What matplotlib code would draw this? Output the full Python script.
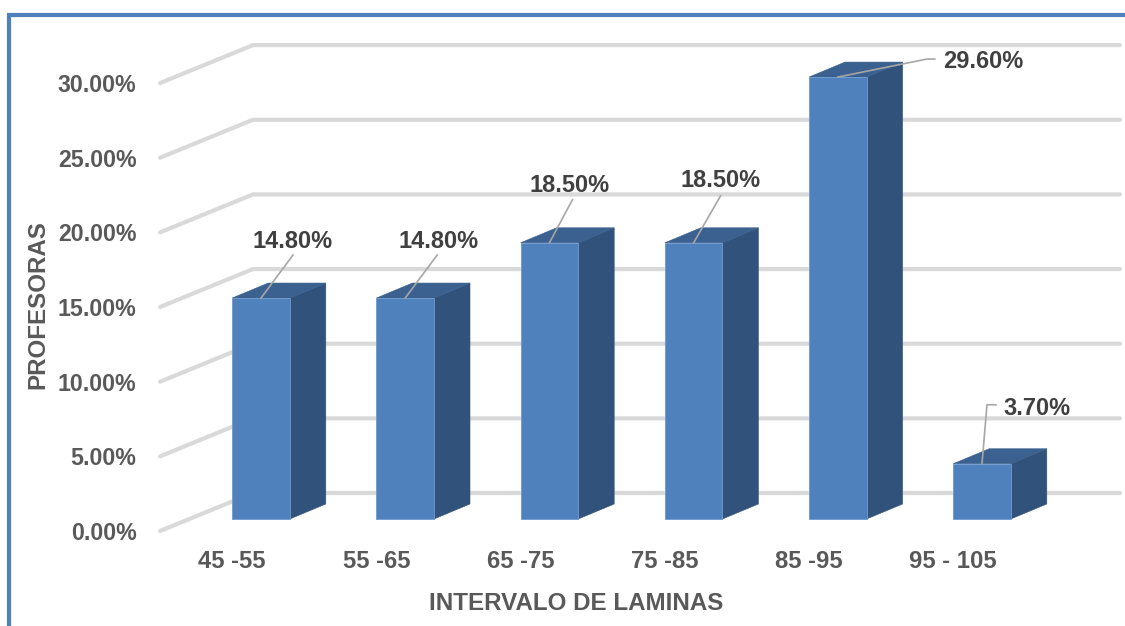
import numpy as np
import matplotlib
matplotlib.use("Agg")
import matplotlib.pyplot as plt
from matplotlib.lines import Line2D
from matplotlib.patches import Polygon

# valores
intervalos = ["45 -55", "55 -65", "65 -75", "75 -85", "85 -95", "95 - 105"]
profesoras = [14.8, 14.8, 18.5, 18.5, 29.6, 3.7]
ticks_y = [0, 5, 10, 15, 20, 25, 30]

W, H = 1125, 626
PX_X = 144.2   # pixeles por categoria
PX_Y = 14.93   # pixeles por punto porcentual
X0, Y0 = 261, 519  # centro de la primera barra, base de las barras

plt.rcParams["font.family"] = ["Liberation Sans", "DejaVu Sans"]
plt.rcParams["font.weight"] = "bold"
GRIS = "#595959"
AZUL, LADO, TECHO = "#4F81BD", "#31527A", "#3A6190"

fig = plt.figure(figsize=(W / 100, H / 100), dpi=100)
left, right, top, bottom = 160, W, 20, 531
ax = fig.add_axes([left / W, 1 - bottom / H, (right - left) / W, (bottom - top) / H])
ax.set_xlim((left - X0) / PX_X, (right - X0) / PX_X)
ax.set_ylim((Y0 - bottom) / PX_Y, (Y0 - top) / PX_Y)
ax.patch.set_alpha(0)
for s in ax.spines.values():
    s.set_visible(False)

# desplazamientos de la perspectiva, en unidades de datos
px = lambda d: d / PX_X
py = lambda d: d / PX_Y
caida = py(531 - 519)     # plano frontal de la rejilla
fondo = py(519 - 493)     # plano trasero de la rejilla
x_ini, x_fondo, x_fin = ax.get_xlim()[0], px(253 - X0), px(1120 - X0)

# rejilla en forma de L
for v in ticks_y:
    ax.plot([x_ini, x_fondo, x_fin], [v - caida, v + fondo, v + fondo],
            color="#D9D9D9", lw=3, solid_capstyle="round", solid_joinstyle="miter",
            clip_on=False, zorder=1)

# barras 3d
ancho = px(28.8)
dx, dy = px(36), py(15)
for i, v in enumerate(profesoras):
    a, b = i - ancho, i + ancho
    ax.bar(i, v, width=2 * ancho, color=AZUL, edgecolor="#6E9BD0", lw=0.6, zorder=3)
    ax.add_patch(Polygon([(b, 0), (b + dx, dy), (b + dx, v + dy), (b, v)],
                         closed=True, fc=LADO, ec=LADO, lw=0.4, zorder=2))
    ax.add_patch(Polygon([(a, v), (a + dx, v + dy), (b + dx, v + dy), (b, v)],
                         closed=True, fc=TECHO, ec=TECHO, lw=0.4, zorder=2))

# lineas guia y etiquetas, desplazamientos en pixeles desde la barra
guias = [
    [(32, 43)],
    [(32, 43)],
    [(23, 43)],
    [(27, 47)],
    [(89, 18), (97, 18)],
    [(5, 59), (14, 59)],
]
pos_etiqueta = [(32, 57), (33, 57), (20, 57), (27, 62), (145, 16), (55, 55)]
for i, v in enumerate(profesoras):
    xs = [i] + [i + px(g[0]) for g in guias[i]]
    ys = [v] + [v + py(g[1]) for g in guias[i]]
    ax.plot(xs, ys, color="#A6A6A6", lw=1.2, clip_on=False, zorder=4)
    ex, ey = pos_etiqueta[i]
    ax.text(i + px(ex), v + py(ey), f"{v:.2f}%", ha="center", va="center",
            fontsize=17, color="#404040", zorder=5)

ax.set_yticks(np.array(ticks_y) - caida, [f"{t:.2f}%" for t in ticks_y])
ax.set_xticks(np.arange(len(intervalos)) - ancho, intervalos)
ax.tick_params(axis="y", length=0, pad=17, labelsize=16.7, labelcolor=GRIS)
ax.tick_params(axis="x", length=0, pad=14, labelsize=17.2, labelcolor=GRIS)

fig.text(576 / W, 1 - 604 / H, "INTERVALO DE LAMINAS", ha="center", va="center",
         fontsize=17.4, color=GRIS)
fig.text(38 / W, 1 - 305 / H, "PROFESORAS", ha="center", va="center",
         rotation=90, fontsize=17.4, color=GRIS)

# marco azul
fig.add_artist(Line2D([9 / W, 9 / W, 1], [0, 1 - 15 / H, 1 - 15 / H], color="#4F81BD",
                      lw=3, solid_joinstyle="miter"))

fig.savefig("out.png", dpi=100)
